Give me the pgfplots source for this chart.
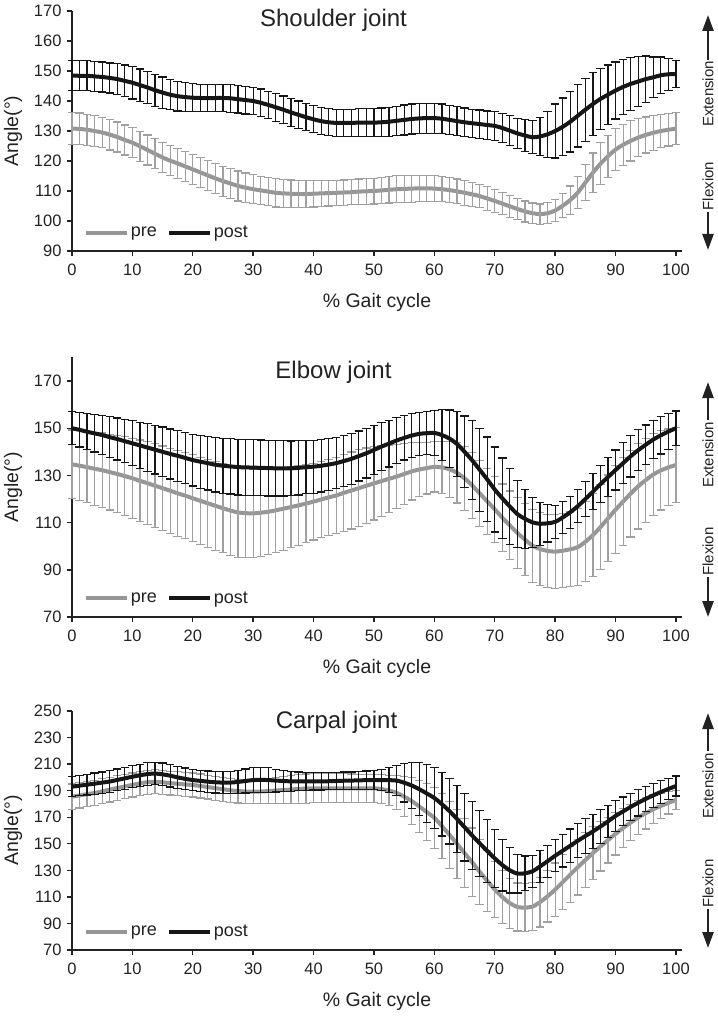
\documentclass[border=0pt]{standalone}
\usepackage{fontspec}
\setmainfont{Liberation Sans}
\usepackage{pgfplots}
\pgfplotsset{compat=1.18}
\usepackage{pgfplotstable}
\usetikzlibrary{arrows.meta}

\definecolor{pregray}{RGB}{150,150,150}
\definecolor{prebar}{RGB}{160,160,160}
\definecolor{postblk}{RGB}{22,22,22}
\definecolor{axgray}{RGB}{34,34,34}

% ---------------- Shoulder ----------------
\pgfplotstableread{
x y e
0 130.8 5.3
1.25 130.7 5.3
2.5 130.4 5.2
3.75 130.0 5.2
5 129.5 5.1
6.25 128.8 5.1
7.5 128.0 5.0
8.75 127.0 5.0
10 126.1 5.0
11.25 124.9 5.0
12.5 123.7 5.0
13.75 122.4 5.0
15 121.2 5.0
16.25 120.1 5.0
17.5 119.2 5.0
18.75 118.2 5.0
20 117.2 5.0
21.25 116.2 5.0
22.5 115.2 5.0
23.75 114.2 5.0
25 113.3 5.0
26.25 112.5 5.0
27.5 111.7 5.0
28.75 111.1 4.9
30 110.6 4.8
31.25 110.2 4.7
32.5 109.8 4.7
33.75 109.4 4.7
35 109.2 4.6
36.25 109.1 4.6
37.5 109.0 4.5
38.75 109.0 4.5
40 109.1 4.4
41.25 109.2 4.3
42.5 109.3 4.3
43.75 109.4 4.2
45 109.5 4.2
46.25 109.6 4.2
47.5 109.8 4.2
48.75 109.9 4.3
50 110.0 4.3
51.25 110.2 4.4
52.5 110.4 4.4
53.75 110.6 4.5
55 110.7 4.5
56.25 110.8 4.5
57.5 110.9 4.4
58.75 110.9 4.4
60 110.8 4.3
61.25 110.6 4.2
62.5 110.3 4.2
63.75 109.9 4.1
65 109.4 4.1
66.25 108.9 4.0
67.5 108.3 3.9
68.75 107.5 3.9
70 106.7 3.8
71.25 105.8 3.7
72.5 104.9 3.6
73.75 104.0 3.5
75 103.2 3.5
76.25 102.6 3.4
77.5 102.3 3.4
78.75 102.6 3.5
80 103.5 3.6
81.25 105.1 4.0
82.5 107.0 4.7
83.75 109.5 5.3
85 112.8 6.0
86.25 116.1 6.6
87.5 119.1 7.0
88.75 121.6 7.0
90 123.8 7.0
91.25 125.4 6.9
92.5 126.7 6.7
93.75 127.8 6.4
95 128.7 6.0
96.25 129.4 5.8
97.5 130.0 5.6
98.75 130.4 5.4
100 130.8 5.3
}\shpre

\pgfplotstableread{
x y e
0 148.5 4.9
1.25 148.4 5.0
2.5 148.4 5.0
3.75 148.2 5.0
5 148.0 5.0
6.25 147.7 5.0
7.5 147.3 5.1
8.75 146.7 5.3
10 146.1 5.4
11.25 145.3 5.4
12.5 144.5 5.4
13.75 143.6 5.3
15 142.8 5.2
16.25 142.1 5.0
17.5 141.6 4.9
18.75 141.3 4.8
20 141.1 4.7
21.25 141.0 4.6
22.5 141.0 4.6
23.75 141.0 4.6
25 141.0 4.6
26.25 140.9 4.6
27.5 140.6 4.6
28.75 140.3 4.6
30 140.0 4.6
31.25 139.4 4.6
32.5 138.7 4.6
33.75 137.9 4.6
35 137.1 4.6
36.25 136.2 4.6
37.5 135.4 4.6
38.75 134.6 4.5
40 133.9 4.5
41.25 133.3 4.5
42.5 132.9 4.5
43.75 132.7 4.5
45 132.7 4.5
46.25 132.7 4.5
47.5 132.8 4.6
48.75 132.8 4.6
50 132.8 4.7
51.25 132.9 4.8
52.5 133.1 4.8
53.75 133.4 4.9
55 133.7 5.0
56.25 134.0 5.0
57.5 134.2 5.0
58.75 134.3 5.0
60 134.3 5.0
61.25 134.1 4.9
62.5 133.7 4.9
63.75 133.3 4.8
65 132.9 4.8
66.25 132.6 4.7
67.5 132.3 4.7
68.75 132.0 4.7
70 131.7 4.8
71.25 131.0 4.9
72.5 130.1 5.0
73.75 129.2 5.1
75 128.5 5.3
76.25 127.9 5.5
77.5 128.2 6.3
78.75 128.9 7.6
80 130.0 9.0
81.25 131.4 9.6
82.5 133.1 10.1
83.75 135.1 10.4
85 137.1 10.5
86.25 139.0 10.5
87.5 140.7 10.2
88.75 142.1 9.9
90 143.5 9.5
91.25 144.7 9.2
92.5 145.7 8.8
93.75 146.5 8.4
95 147.3 7.7
96.25 147.9 6.8
97.5 148.6 6.1
98.75 148.9 5.4
100 149.0 4.5
}\shpost

% ---------------- Elbow ----------------
\pgfplotstableread{
x y e
0 134.7 14.5
1.25 134.1 14.8
2.5 133.5 15.1
3.75 132.8 15.4
5 132.2 15.8
6.25 131.4 16.1
7.5 130.6 16.4
8.75 129.7 16.7
10 128.8 17.0
11.25 127.7 17.3
12.5 126.7 17.6
13.75 125.6 17.8
15 124.6 17.9
16.25 123.5 18.0
17.5 122.4 18.2
18.75 121.4 18.3
20 120.3 18.4
21.25 119.2 18.5
22.5 118.2 18.7
23.75 117.1 18.8
25 116.1 18.9
26.25 115.1 19.0
27.5 114.3 19.0
28.75 114.0 18.9
30 113.9 18.7
31.25 114.2 18.5
32.5 114.6 18.2
33.75 115.2 17.9
35 115.9 17.6
36.25 116.6 17.2
37.5 117.3 16.9
38.75 118.1 16.6
40 118.9 16.3
41.25 119.8 16.2
42.5 120.7 16.2
43.75 121.5 16.2
45 122.6 16.2
46.25 123.6 16.3
47.5 124.6 16.3
48.75 125.6 16.0
50 126.6 15.5
51.25 127.6 14.9
52.5 128.6 14.3
53.75 129.5 13.6
55 130.6 12.9
56.25 131.7 12.1
57.5 132.5 11.5
58.75 133.1 11.0
60 133.6 10.6
61.25 133.4 11.0
62.5 132.6 11.9
63.75 131.1 12.8
65 128.7 13.5
66.25 125.8 14.0
67.5 122.4 14.0
68.75 119.0 14.0
70 115.6 14.0
71.25 112.1 14.3
72.5 108.8 14.6
73.75 105.6 14.9
75 102.8 15.3
76.25 100.2 15.5
77.5 98.8 15.6
78.75 98.0 15.6
80 97.7 15.6
81.25 98.1 15.6
82.5 98.7 15.8
83.75 99.6 16.4
85 101.9 17.0
86.25 104.7 17.6
87.5 108.1 18.0
88.75 111.8 18.4
90 115.5 18.6
91.25 118.9 18.6
92.5 122.3 18.4
93.75 125.4 18.1
95 128.0 17.8
96.25 130.4 17.4
97.5 132.1 16.8
98.75 133.4 16.3
100 134.4 16.0
}\elpre

\pgfplotstableread{
x y e
0 150.0 7.0
1.25 149.3 7.3
2.5 148.5 7.6
3.75 147.8 7.9
5 147.1 8.3
6.25 146.2 8.6
7.5 145.4 8.9
8.75 144.5 9.2
10 143.6 9.5
11.25 142.7 9.8
12.5 141.8 10.1
13.75 140.9 10.3
15 140.0 10.5
16.25 139.1 10.6
17.5 138.3 10.8
18.75 137.4 10.9
20 136.5 11.0
21.25 135.8 11.2
22.5 135.2 11.4
23.75 134.5 11.5
25 134.1 11.6
26.25 133.8 11.7
27.5 133.5 11.8
28.75 133.4 11.8
30 133.3 11.8
31.25 133.2 11.8
32.5 133.1 11.8
33.75 133.0 11.7
35 133.0 11.7
36.25 133.0 11.6
37.5 133.2 11.5
38.75 133.5 11.3
40 133.7 11.2
41.25 134.1 11.1
42.5 134.6 11.0
43.75 135.2 10.8
45 136.1 10.8
46.25 137.0 10.7
47.5 138.2 10.6
48.75 139.4 10.5
50 140.8 10.4
51.25 142.2 10.2
52.5 143.5 9.9
53.75 144.8 9.6
55 145.9 9.4
56.25 146.9 9.2
57.5 147.6 9.0
58.75 147.9 9.1
60 148.0 9.5
61.25 147.1 10.7
62.5 145.6 12.1
63.75 143.3 13.7
65 140.0 15.2
66.25 136.4 16.7
67.5 132.4 17.6
68.75 128.3 18.0
70 124.0 18.0
71.25 120.3 17.1
72.5 116.8 16.0
73.75 113.6 14.3
75 111.6 12.5
76.25 110.1 10.6
77.5 109.5 9.1
78.75 109.7 7.9
80 110.3 7.0
81.25 112.2 6.9
82.5 114.4 6.8
83.75 117.0 7.0
85 120.0 7.3
86.25 123.1 7.6
87.5 126.3 7.9
88.75 129.3 8.2
90 132.3 8.5
91.25 135.2 8.7
92.5 138.1 8.8
93.75 140.7 8.6
95 143.0 8.4
96.25 145.2 8.2
97.5 147.0 7.9
98.75 148.6 7.6
100 150.0 7.3
}\elpost

% ---------------- Carpal ----------------
\pgfplotstableread{
x y e
0 185.5 9.5
1.25 186.4 9.5
2.5 187.4 9.5
3.75 188.3 9.5
5 189.5 9.4
6.25 190.8 9.3
7.5 192.0 9.2
8.75 193.2 9.1
10 194.3 9.0
11.25 195.5 9.0
12.5 196.4 9.0
13.75 196.7 9.0
15 196.3 9.0
16.25 195.7 9.0
17.5 195.2 9.0
18.75 194.7 9.0
20 194.3 9.0
21.25 193.5 9.0
22.5 192.7 9.0
23.75 191.9 9.0
25 191.1 9.0
26.25 190.3 9.0
27.5 189.7 9.0
28.75 189.4 9.0
30 189.2 9.0
31.25 189.4 9.3
32.5 189.7 9.6
33.75 190.1 9.9
35 190.5 10.2
36.25 190.9 10.6
37.5 191.3 10.9
38.75 191.6 11.0
40 191.8 11.0
41.25 191.8 11.0
42.5 191.8 11.0
43.75 191.8 11.0
45 191.8 11.0
46.25 191.8 10.7
47.5 191.8 10.5
48.75 191.8 10.5
50 191.8 10.5
51.25 191.2 10.8
52.5 190.1 11.5
53.75 188.4 12.8
55 185.5 15.0
56.25 182.2 17.5
57.5 178.1 19.6
58.75 173.9 21.5
60 169.5 23.0
61.25 163.3 24.3
62.5 156.8 25.3
63.75 149.9 25.9
65 143.0 26.0
66.25 136.1 25.8
67.5 128.9 24.5
68.75 122.1 23.0
70 115.5 21.0
71.25 109.9 19.8
72.5 105.3 18.8
73.75 102.4 18.1
75 101.9 18.0
76.25 102.7 18.1
77.5 106.1 18.8
78.75 110.5 19.4
80 115.5 20.0
81.25 121.1 20.6
82.5 126.8 21.0
83.75 132.4 21.0
85 137.8 20.5
86.25 143.0 19.9
87.5 148.0 18.5
88.75 152.8 17.3
90 157.5 16.0
91.25 161.9 14.8
92.5 166.0 13.6
93.75 169.8 12.7
95 173.0 11.8
96.25 176.0 10.8
97.5 178.5 9.5
98.75 180.8 8.3
100 183.0 7.0
}\capre

\pgfplotstableread{
x y e
0 193.0 7.5
1.25 193.8 7.7
2.5 194.5 7.8
3.75 195.3 8.0
5 196.1 8.0
6.25 196.9 8.0
7.5 198.1 8.2
8.75 199.3 8.2
10 200.5 8.3
11.25 201.6 8.4
12.5 202.5 8.5
13.75 202.9 8.5
15 202.3 8.5
16.25 201.3 8.5
17.5 200.0 8.3
18.75 198.9 8.2
20 198.0 8.0
21.25 197.4 8.0
22.5 196.8 8.0
23.75 196.3 8.0
25 196.1 8.1
26.25 196.1 8.3
27.5 196.6 8.6
28.75 197.3 9.0
30 198.0 9.5
31.25 198.1 9.5
32.5 198.0 9.3
33.75 197.6 8.6
35 197.3 8.0
36.25 197.0 7.5
37.5 197.0 7.1
38.75 197.0 6.8
40 197.0 6.5
41.25 197.0 6.5
42.5 197.1 6.5
43.75 197.3 6.5
45 197.5 6.5
46.25 197.6 6.5
47.5 197.8 6.7
48.75 197.9 6.9
50 198.0 7.0
51.25 198.0 7.8
52.5 197.9 9.4
53.75 197.6 11.5
55 196.0 14.5
56.25 193.9 17.5
57.5 191.1 20.0
58.75 187.9 21.8
60 184.5 23.0
61.25 179.8 24.0
62.5 174.6 24.8
63.75 168.7 25.4
65 162.5 25.5
66.25 156.3 25.4
67.5 150.4 24.8
68.75 144.6 23.8
70 139.0 22.0
71.25 134.0 19.5
72.5 130.0 17.0
73.75 127.5 14.5
75 127.8 13.0
76.25 129.3 12.0
77.5 133.0 12.0
78.75 136.9 12.0
80 141.0 12.0
81.25 144.8 12.3
82.5 148.5 12.6
83.75 152.3 12.9
85 155.8 13.0
86.25 159.3 13.0
87.5 163.0 12.6
88.75 166.9 12.2
90 171.0 11.5
91.25 174.4 10.9
92.5 177.8 10.3
93.75 180.9 9.9
95 183.8 9.4
96.25 186.5 9.0
97.5 189.0 8.5
98.75 191.3 8.0
100 193.5 7.5
}\capost

\pgfplotsset{
  jointaxis/.style={
    scale only axis, width=610pt, xmin=0, xmax=101,
    anchor=south west,
    axis x line*=bottom, axis y line*=left,
    axis line style={line width=1.8pt, axgray, -},
    tick align=outside, major tick length=5pt,
    major tick style={line width=1.4pt, axgray},
    xtick={0,10,...,100}, minor tick num=0,
    tick label style={font=\fontsize{16.5}{18}\selectfont, text=axgray},
    xticklabel style={yshift=-4pt},
    yticklabel style={xshift=-2pt},
    /pgf/number format/assume math mode=true,
    clip=false,
    legend style={draw=none, fill=none, anchor=west, legend columns=2,
      font=\fontsize{18}{20}\selectfont, text=axgray, inner sep=0pt,
      nodes={inner sep=1.5pt},
      /tikz/every even column/.append style={column sep=9pt}},
    legend cell align=left,
    legend image code/.code={\draw[##1] (0pt,0pt) -- (41pt,0pt);},
  },
  prestyle/.style={forget plot, smooth, line width=4pt, pregray, mark=none,
    error bars/.cd, y dir=both, y explicit,
    error bar style={line width=1.2pt, prebar, solid},
    error mark options={rotate=90, mark size=4.2pt, line width=1.2pt, prebar}},
  poststyle/.style={forget plot, smooth, line width=4pt, postblk, mark=none,
    error bars/.cd, y dir=both, y explicit,
    error bar style={line width=1.2pt, postblk, solid},
    error mark options={rotate=90, mark size=4.2pt, line width=1.2pt, postblk}},
}

\newcommand{\ylab}{\node[rotate=90, font=\fontsize{19.5}{22}\selectfont, text=axgray] at (rel axis cs:-0.0967,0.5) {Angle(°)};}
\newcommand{\xlab}{\node[font=\fontsize{19.5}{22}\selectfont, text=axgray, yshift=-51pt] at (rel axis cs:0.5,0) {\% Gait cycle};}

\begin{document}
\begin{tikzpicture}
\path[use as bounding box] (0pt,0pt) rectangle (717pt,-1016pt);

% ---------- Shoulder ----------
\begin{axis}[jointaxis, at={(72pt,-251pt)}, height=240pt,
  ymin=90, ymax=170, ytick={90,100,...,170},
  legend style={at={(rel axis cs:0.02,0.076)}}]
\addplot[prestyle] table[x=x, y=y, y error=e] {\shpre};
\addplot[poststyle] table[x=x, y=y, y error=e] {\shpost};
\addlegendimage{line width=4pt, pregray}
\addlegendentry{pre}
\addlegendimage{line width=4pt, postblk}
\addlegendentry{post}
\node[anchor=base, font=\fontsize{24}{28}\selectfont, text=axgray] at (axis cs:43.3,164.7) {Shoulder joint};
\ylab
\xlab
\end{axis}

% ---------- Elbow ----------
\begin{axis}[jointaxis, at={(72pt,-617pt)}, height=259.6pt,
  ymin=70, ymax=180, ytick={70,90,...,170},
  legend style={at={(rel axis cs:0.02,0.073)}}]
\addplot[prestyle] table[x=x, y=y, y error=e] {\elpre};
\addplot[poststyle] table[x=x, y=y, y error=e] {\elpost};
\addlegendimage{line width=4pt, pregray}
\addlegendentry{pre}
\addlegendimage{line width=4pt, postblk}
\addlegendentry{post}
\node[anchor=base, font=\fontsize{24}{28}\selectfont, text=axgray] at (axis cs:43.3,171.1) {Elbow joint};
\ylab
\xlab
\end{axis}

% ---------- Carpal ----------
\begin{axis}[jointaxis, at={(72pt,-950pt)}, height=239pt,
  ymin=70, ymax=250, ytick={70,90,...,250},
  legend style={at={(rel axis cs:0.02,0.077)}}]
\addplot[prestyle] table[x=x, y=y, y error=e] {\capre};
\addplot[poststyle] table[x=x, y=y, y error=e] {\capost};
\addlegendimage{line width=4pt, pregray}
\addlegendentry{pre}
\addlegendimage{line width=4pt, postblk}
\addlegendentry{post}
\node[anchor=base, font=\fontsize{24}{28}\selectfont, text=axgray] at (axis cs:43.8,237) {Carpal joint};
\ylab
\xlab
\end{axis}

% ---------- Extension / Flexion annotations ----------
\tikzset{dirarrow/.style={line width=2.4pt, axgray, -{Triangle[length=16pt,width=11pt]}},
         dirtext/.style={rotate=90, font=\fontsize{15}{17}\selectfont, text=axgray, inner sep=0pt}}
% shoulder
\draw[dirarrow] (708pt,-60pt) -- (708pt,-15pt);
\node[dirtext] at (708pt,-94pt) {Extension};
\node[dirtext] at (708pt,-186pt) {Flexion};
\draw[dirarrow] (708pt,-212pt) -- (708pt,-250pt);
% elbow
\draw[dirarrow] (708pt,-420pt) -- (708pt,-382pt);
\node[dirtext] at (708pt,-455pt) {Extension};
\node[dirtext] at (708pt,-551.5pt) {Flexion};
\draw[dirarrow] (708pt,-577pt) -- (708pt,-617pt);
% carpal
\draw[dirarrow] (708pt,-751pt) -- (708pt,-713pt);
\node[dirtext] at (708pt,-786pt) {Extension};
\node[dirtext] at (708pt,-883.5pt) {Flexion};
\draw[dirarrow] (708pt,-909pt) -- (708pt,-948pt);
\end{tikzpicture}
\end{document}
